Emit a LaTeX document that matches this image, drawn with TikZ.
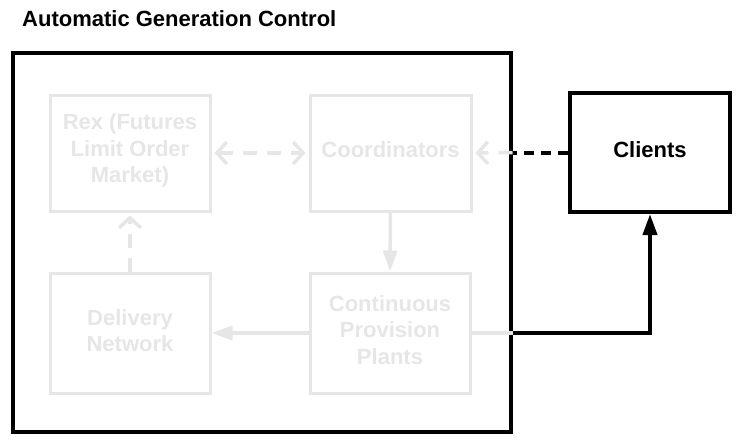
\documentclass[tikz,border=0pt]{standalone}
\usepackage{fontspec}
\setmainfont{Liberation Sans}
\usetikzlibrary{arrows.meta}
\definecolor{faint}{HTML}{E6E6E6}
\tikzset{
  txt/.style={font=\fontsize{22}{26.5}\selectfont\bfseries, align=center, inner sep=0pt},
  gbox/.style={draw=faint, line width=3pt, inner sep=0pt},
  bbox/.style={draw=black, line width=4pt, inner sep=0pt},
  gtext/.style={txt, text=faint},
  btext/.style={txt, text=black},
  chev/.style={-{Straight Barb[length=10pt,width=22pt,line width=3.5pt]}},
  chevboth/.style={{Straight Barb[length=10pt,width=22pt,line width=3.5pt]}-{Straight Barb[length=10pt,width=22pt,line width=3.5pt]}},
  tri/.style={-{Triangle[length=21pt,width=14pt]}},
  gdash/.style={dash pattern=on 14pt off 10pt},
  bdash/.style={dash pattern=on 10pt off 7pt},
}
\begin{document}
\begin{tikzpicture}[x=1pt,y=-1pt]
\useasboundingbox (0,0) rectangle (741,444);
\node[font=\fontsize{22}{26}\selectfont\bfseries, anchor=base west, inner sep=0pt] (title) at (22,27) {Automatic Generation Control};
\node[gbox, minimum width=160pt, minimum height=116pt] (rex) at (130,153) {};
\node[gbox, minimum width=161pt, minimum height=116pt] (coord) at (390.5,153) {};
\node[gbox, minimum width=160pt, minimum height=120pt] (deliv) at (130,333) {};
\node[gbox, minimum width=160pt, minimum height=120pt] (cont) at (390,333) {};
\node[bbox, minimum width=160pt, minimum height=119pt] (clients) at (650,152.5) {};
\node[gtext] (rext) at ([yshift=2.5pt]rex.center) {Rex (Futures\\Limit Order\\Market)};
\node[gtext] (coordt) at ([yshift=3pt]coord.center) {Coordinators};
\node[gtext] (delivt) at ([yshift=2.5pt]deliv.center) {Delivery\\Network};
\node[gtext] (contt) at ([yshift=3pt]cont.center) {Continuous\\Provision\\Plants};
\node[btext] (clientst) at ([yshift=3pt]clients.center) {Clients};
\node[draw=black, line width=4pt, minimum width=498pt, minimum height=379pt, inner sep=0pt] (outer) at (261.5,242.5) {};
\coordinate (c1) at (outer.east |- clients.west);
\coordinate (c2) at (outer.east |- cont.east);
\coordinate (c3) at (clients.south |- cont.east);
% gray connectors
\draw[faint, line width=3.5pt, gdash, chevboth, shorten <=3pt, shorten >=3pt] (rex.east) -- (coord.west);
\draw[faint, line width=3.5pt, gdash, chev, shorten >=3pt] (c1) -- (coord.east);
\draw[faint, line width=3.5pt, tri] (coord.south) -- (cont.north);
\draw[faint, line width=3.5pt, tri] (cont.west) -- (deliv.east);
\draw[faint, line width=3.5pt, gdash, chev, shorten >=3pt] (deliv.north) -- (rex.south);
\draw[faint, line width=4pt] (cont.east) -- (c2);
% black connectors
\draw[black, line width=4pt, bdash] (clients.west) -- (c1);
\draw[black, line width=4pt, tri] (c2) -- (c3) -- (clients.south);
\end{tikzpicture}
\end{document}
